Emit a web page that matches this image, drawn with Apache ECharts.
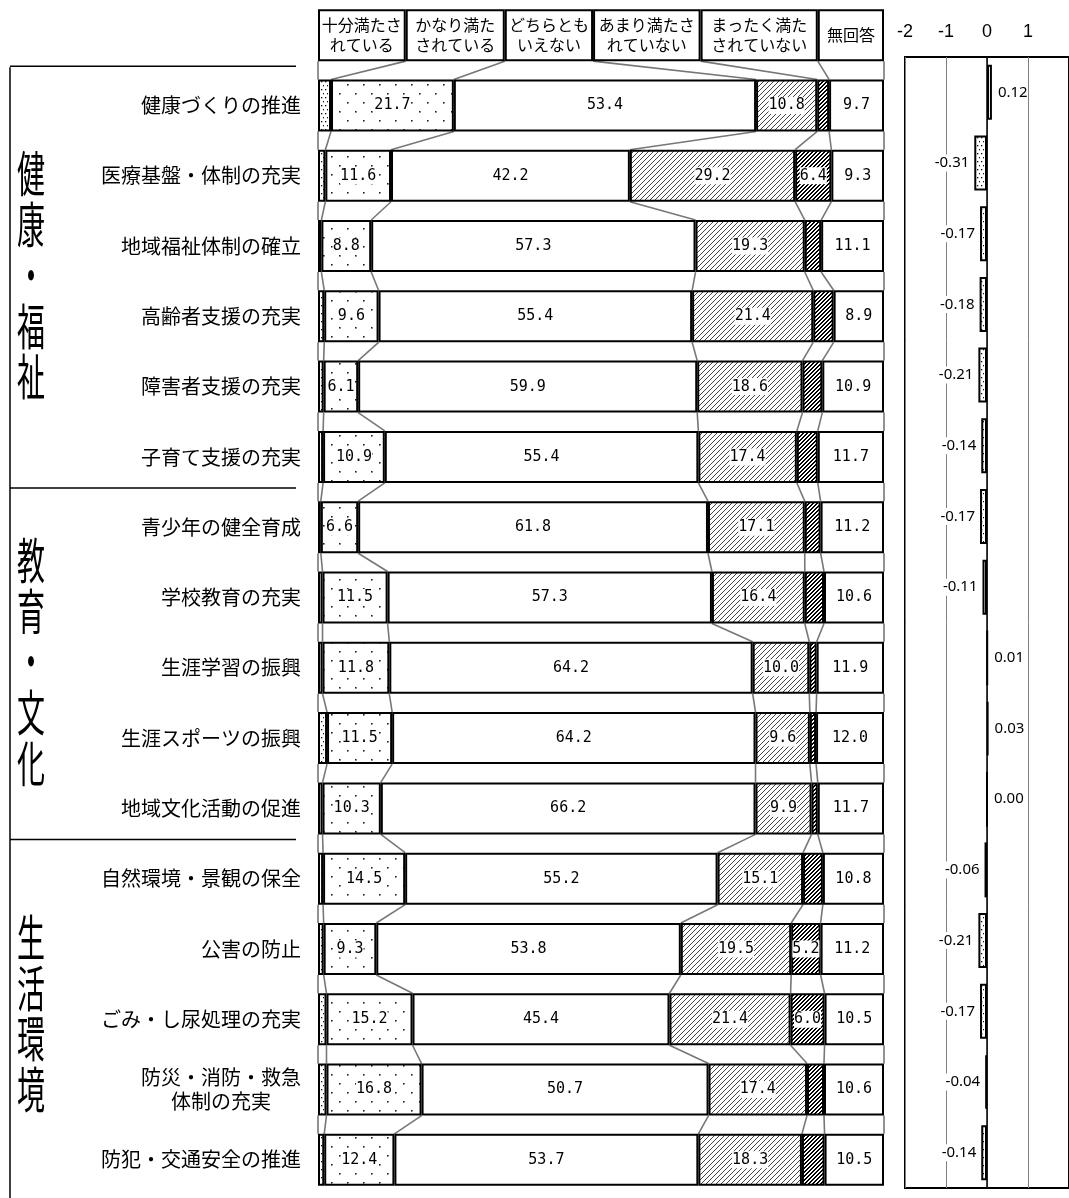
<!DOCTYPE html>
<html><head><meta charset="utf-8">
<script src="https://cdn.jsdelivr.net/npm/echarts@6/dist/echarts.min.js"></script>
<style>html,body{margin:0;padding:0;background:#fff}#c{width:1069px;height:1198px}</style>
</head><body><div id="c"></div>
<script>
// ---------- data ----------
const headerLabels = ['十分満たさ\nれている','かなり満た\nされている','どちらとも\nいえない','あまり満たさ\nれていない','まったく満た\nされていない','無回答'];
const headerWidths = [15.5, 17.5, 15.6, 19.0, 20.7, 11.7];
const rowLabels = ['健康づくりの推進','医療基盤・体制の充実','地域福祉体制の確立','高齢者支援の充実','障害者支援の充実','子育て支援の充実',
  '青少年の健全育成','学校教育の充実','生涯学習の振興','生涯スポーツの振興','地域文化活動の促進',
  '自然環境・景観の保全','公害の防止','ごみ・し尿処理の充実','防災・消防・救急\n体制の充実','防犯・交通安全の推進'];
const groupLabels = ['健康・福祉','教育・文化','生活環境'];
const groupFirstRow = [0, 6, 11];
const groupLastRow = [5, 10, 15];
const fullySatisfied   = [2.3,1.3,0.6,1.1,1.0,0.9,0.5,0.8,0.8,1.6,0.8,0.9,1.0,1.5,1.5,1.1];
const fairlySatisfied  = [21.7,11.6,8.8,9.6,6.1,10.9,6.6,11.5,11.8,11.5,10.3,14.5,9.3,15.2,16.8,12.4];
const neither          = [53.4,42.2,57.3,55.4,59.9,55.4,61.8,57.3,64.2,64.2,66.2,55.2,53.8,45.4,50.7,53.7];
const notVery          = [10.8,29.2,19.3,21.4,18.6,17.4,17.1,16.4,10.0,9.6,9.9,15.1,19.5,21.4,17.4,18.3];
const notAtAll         = [2.1,6.4,2.9,3.6,3.5,3.7,2.8,3.4,1.3,1.1,1.1,3.5,5.2,6.0,3.0,4.0];
const noAnswer         = [9.7,9.3,11.1,8.9,10.9,11.7,11.2,10.6,11.9,12.0,11.7,10.8,11.2,10.5,10.6,10.5];
const scoreValues = [0.12,-0.31,-0.17,-0.18,-0.21,-0.14,-0.17,-0.11,0.01,0.03,0.00,-0.06,-0.21,-0.17,-0.04,-0.14];
const scoreMin = -2, scoreMax = 2, scoreStep = 1;

// ---------- patterns ----------
function makePattern(w, h, draw) {
  const c = document.createElement('canvas'); c.width = w; c.height = h;
  const x = c.getContext('2d'); x.fillStyle = '#fff'; x.fillRect(0, 0, w, h); draw(x);
  return { image: c, repeat: 'repeat' };
}
const denseDots = makePattern(4, 8, x => { x.fillStyle = '#111'; x.fillRect(1, 1, 1.3, 1.3); x.fillRect(3, 5, 1.3, 1.3); });
const sparseDots = makePattern(16, 18, x => { x.fillStyle = '#222'; x.fillRect(3, 3, 1.6, 1.6); x.fillRect(11, 12, 1.6, 1.6); });
const lightHatch = makePattern(5, 5, x => { x.fillStyle = '#444'; for (let i = 0; i < 5; i++) x.fillRect(i, 4 - i, 1, 1); });
const darkHatch = makePattern(4, 4, x => { x.fillStyle = '#000'; for (let i = 0; i < 4; i++) { x.fillRect(i, 3 - i, 1, 1); x.fillRect(i, (4 - i) % 4, 1, 1); } });

const seriesValues = [fullySatisfied, fairlySatisfied, neither, notVery, notAtAll, noAnswer];
const seriesFills = [denseDots, sparseDots, '#fff', lightHatch, darkHatch, '#fff'];
const BAR_H = 52;
const monoFont = '"DejaVu Sans Mono", "Liberation Mono", monospace';
const cjkFont = '"Noto Sans CJK JP", sans-serif';

const chart = echarts.init(document.getElementById('c'), null, { renderer: 'canvas' });

const barSeries = seriesValues.map((vals, k) => ({
  type: 'bar', stack: 'total', xAxisIndex: 0, yAxisIndex: 0, barWidth: BAR_H,
  itemStyle: { color: seriesFills[k], borderColor: '#000', borderWidth: 2 },
  label: { show: true, position: 'inside', color: '#000', fontFamily: monoFont, fontSize: 15,
    backgroundColor: '#fff', padding: [1, 0],
    formatter: p => p.dataIndex === 0 ? headerLabels[k] : p.value.toFixed(1) },
  emphasis: { disabled: true },
  data: [{ value: headerWidths[k], itemStyle: { color: '#fff' },
           label: { fontFamily: cjkFont, fontSize: 16, lineHeight: 20, backgroundColor: 'transparent' } }]
    .concat(vals.map(v => ({ value: v, label: { show: v >= 5 } })))
}));

function cumulative(row) {
  const widths = row === 0 ? headerWidths : seriesValues.map(a => a[row - 1]);
  const out = [0]; let s = 0;
  widths.forEach(w => { s += w; out.push(Math.min(s, 100)); });
  out[out.length - 1] = 100;
  return out;
}

const connectorSeries = {
  type: 'custom', xAxisIndex: 0, yAxisIndex: 0, z: 1, silent: true,
  encode: { x: 0, y: 1 },
  data: rowLabels.map((_, i) => [0, i]),
  renderItem: (params, api) => {
    const g = api.value(1);
    const a = cumulative(g), b = cumulative(g + 1);
    const children = a.map((va, k) => {
      const p1 = api.coord([va, g]); const p2 = api.coord([b[k], g + 1]);
      return { type: 'line', shape: { x1: p1[0], y1: p1[1] + BAR_H / 2, x2: p2[0], y2: p2[1] - BAR_H / 2 },
        style: { stroke: '#777', lineWidth: 1.6 } };
    });
    return { type: 'group', children };
  }
};

const scoreSeries = {
  type: 'bar', xAxisIndex: 1, yAxisIndex: 1, barWidth: 55,
  emphasis: { disabled: true },
  data: scoreValues.map(v => ({
    value: v,
    itemStyle: { color: v < 0 ? denseDots : '#fff', borderColor: '#000', borderWidth: 2 },
    label: { show: true, position: v < 0 ? 'left' : 'right', distance: v < 0 ? 5 : 6,
      formatter: () => v.toFixed(2), fontFamily: '"Noto Sans", sans-serif', fontSize: 15, color: '#000',
      backgroundColor: '#fff', padding: [1, 0] }
  }))
};

chart.setOption({
  animation: false,
  backgroundColor: '#fff',
  grid: [
    { left: 318, top: 0, width: 566, height: 1195, containLabel: false },
    { left: 905, top: 57, width: 174, height: 1131, show: true, borderColor: '#000', borderWidth: 2, backgroundColor: 'transparent' }
  ],
  xAxis: [
    { gridIndex: 0, type: 'value', min: 0, max: 100, show: false },
    { gridIndex: 1, type: 'value', position: 'top', min: scoreMin, max: scoreMax, interval: scoreStep,
      axisLine: { show: false }, axisTick: { show: false },
      axisLabel: { color: '#000', fontSize: 18, fontFamily: '"Liberation Sans", Arial', margin: 16, showMaxLabel: false },
      splitLine: { show: true, lineStyle: { color: '#808080', width: 1 } } }
  ],
  yAxis: [
    { gridIndex: 0, type: 'category', inverse: true, data: [''].concat(rowLabels),
      axisLine: { show: false }, axisTick: { show: false },
      axisLabel: { color: '#000', fontSize: 20, fontFamily: cjkFont, margin: 17, lineHeight: 24,
        formatter: v => v.indexOf('\n') >= 0 ? v.split('\n').map(s => '{c|' + s + '}').join('\n') : v,
        rich: { c: { width: 160, align: 'center', fontSize: 20, fontFamily: cjkFont, color: '#000', lineHeight: 24 } } } },
    { gridIndex: 1, type: 'category', inverse: true, data: rowLabels.map((_, i) => i),
      axisLine: { show: true, onZero: true, lineStyle: { color: '#000', width: 1.5 } },
      axisTick: { show: false }, axisLabel: { show: false } }
  ],
  series: barSeries.concat([connectorSeries, scoreSeries])
});

// ---------- group labels & frame lines (positioned through the category scale) ----------
function rowY(r) { return chart.convertToPixel({ gridIndex: 0 }, [0, r + 1])[1]; }
const band = rowY(1) - rowY(0);
const graphics = [];
const topLine = rowY(0) - band / 2 - 3;
graphics.push({ type: 'line', shape: { x1: 10, y1: topLine, x2: 10, y2: 1198 }, style: { stroke: '#000', lineWidth: 1.5 } });
groupLabels.forEach((lab, gi) => {
  const yLine = rowY(groupFirstRow[gi]) - band / 2 - 4;
  graphics.push({ type: 'line', shape: { x1: 10, y1: yLine, x2: 296, y2: yLine }, style: { stroke: '#000', lineWidth: 1.5 } });
  const yc = (rowY(groupFirstRow[gi]) + rowY(groupLastRow[gi])) / 2 - 6;
  graphics.push({ type: 'text', x: 31, y: yc, scaleY: 1.75,
    style: { text: lab.split('').join('\n'), font: '28px "Noto Sans CJK JP"', fill: '#000',
      textAlign: 'center', textVerticalAlign: 'middle', lineHeight: 29 } });
});
chart.setOption({ graphic: graphics });
</script>
</body></html>
